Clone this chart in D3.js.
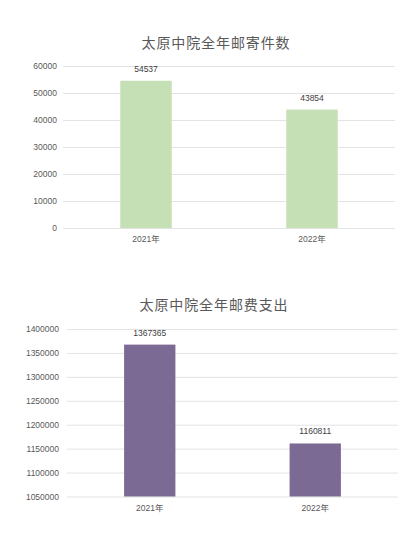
<!DOCTYPE html>
<html><head><meta charset="utf-8">
<script src="https://cdn.jsdelivr.net/npm/d3@7"></script>
<style>body{margin:0;background:#fff;}svg{display:block;font-family:"Liberation Sans","DejaVu Sans",sans-serif;}</style>
</head><body>
<svg id="c" width="407" height="547"></svg>
<script>
const categories = ["2021年", "2022年"];
const mailCount = [54537, 43854];
const mailTicks = [0, 10000, 20000, 30000, 40000, 50000, 60000];
const postage = [1367365, 1160811];
const postageTicks = [1050000, 1100000, 1150000, 1200000, 1250000, 1300000, 1350000, 1400000];

const svg = d3.select("#c");
const titleFont = '"Noto Sans CJK SC","Noto Sans",sans-serif';

function drawChart(cfg) {
  const g = svg.append("g");
  g.append("text").attr("x", cfg.titleX).attr("y", cfg.titleY)
    .attr("text-anchor", "middle").attr("font-family", titleFont)
    .attr("font-size", 14).attr("letter-spacing", 0.9).attr("fill", "#595959")
    .text(cfg.title);
  const y = d3.scaleLinear().domain(cfg.domain).range([cfg.bottom, cfg.top]);
  const x = d3.scaleBand().domain(categories).range([cfg.left, cfg.right]).paddingInner(0.69).paddingOuter(0.345);
  // grid
  g.append("g").selectAll("line").data(cfg.ticks).join("line")
    .attr("x1", cfg.left).attr("x2", cfg.right)
    .attr("y1", d => y(d) + 0.5).attr("y2", d => y(d) + 0.5)
    .attr("stroke", "#e3e3e3").attr("stroke-width", 1);
  // y axis labels
  const ax = g.append("g").attr("transform", `translate(${cfg.left},0)`)
    .call(d3.axisLeft(y).tickValues(cfg.ticks).tickSize(0).tickPadding(cfg.tickPad).tickFormat(d3.format("d")));
  ax.select(".domain").remove();
  ax.selectAll("text").attr("font-size", 8.5).attr("fill", "#595959").attr("font-family", '"Liberation Sans",sans-serif');
  // bars
  g.append("g").selectAll("rect").data(cfg.values).join("rect")
    .attr("x", (d, i) => x(categories[i])).attr("width", x.bandwidth())
    .attr("y", d => y(d)).attr("height", d => cfg.bottom - y(d))
    .attr("fill", cfg.color);
  // value labels
  g.append("g").selectAll("text").data(cfg.values).join("text")
    .attr("x", (d, i) => x(categories[i]) + x.bandwidth() / 2)
    .attr("y", d => y(d) - 9)
    .attr("text-anchor", "middle").attr("font-size", 8.5).attr("fill", "#404040")
    .text(d => d);
  // x labels
  const xa = g.append("g").attr("transform", `translate(0,${cfg.bottom})`)
    .call(d3.axisBottom(x).tickSize(0).tickPadding(8));
  xa.select(".domain").remove();
  xa.selectAll("text").attr("font-size", 8.5).attr("fill", "#595959").attr("font-family", '"Liberation Sans","Noto Sans CJK SC",sans-serif');
}

drawChart({title: "太原中院全年邮寄件数", titleX: 216, titleY: 48, domain: [0, 60000], ticks: mailTicks,
  values: mailCount, top: 66, bottom: 228, left: 63, right: 395, tickPad: 6, color: "#c5e0b4"});
drawChart({title: "太原中院全年邮费支出", titleX: 214, titleY: 310, domain: [1050000, 1400000], ticks: postageTicks,
  values: postage, top: 329, bottom: 496.5, left: 67, right: 398, tickPad: 8, color: "#7b6a93"});
</script>
</body></html>
